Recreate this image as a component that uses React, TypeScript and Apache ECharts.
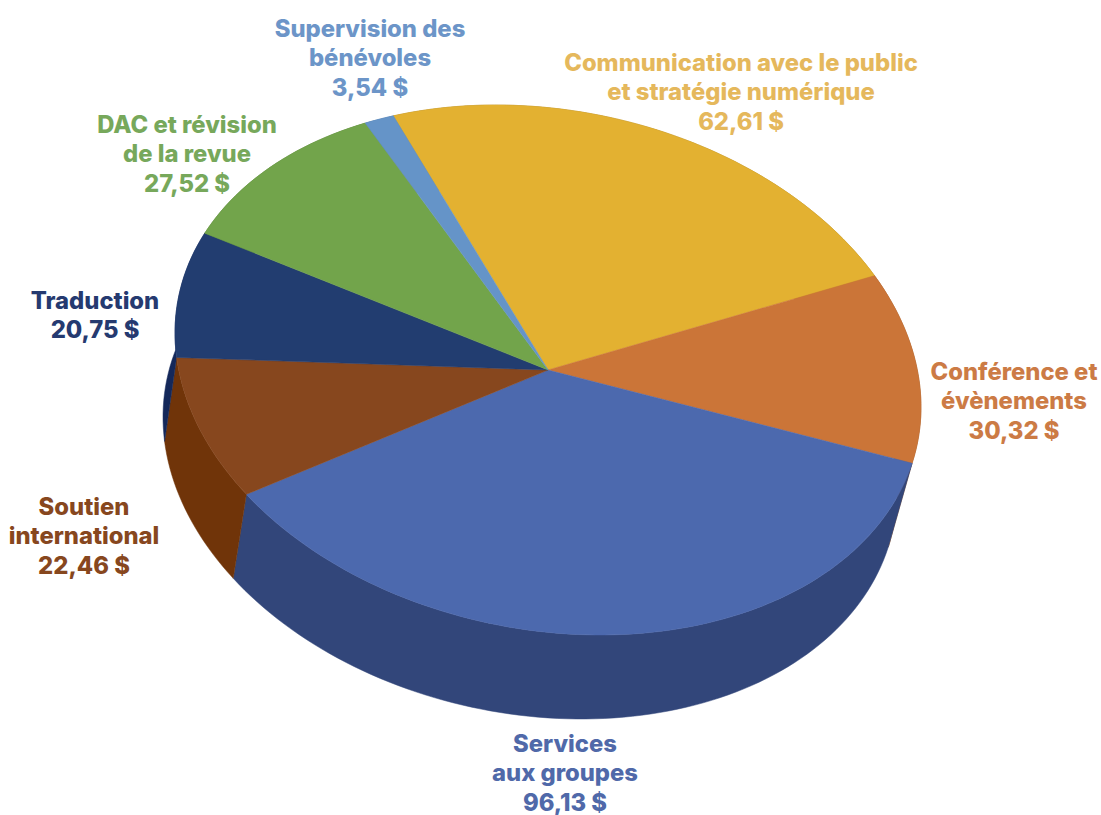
import React, { useEffect, useRef } from "react";
import * as echarts from "echarts";

// Data, clockwise from the start of the largest upper slice
const categories = [
  ["Communication avec le public", "et stratégie numérique"],
  ["Conférence et", "évènements"],
  ["Services", "aux groupes"],
  ["Soutien", "international"],
  ["Traduction"],
  ["DAC et révision", "de la revue"],
  ["Supervision des", "bénévoles"],
];
const values = [62.61, 30.32, 96.13, 22.46, 20.75, 27.52, 3.54];
const valueLabels = ["62,61 $", "30,32 $", "96,13 $", "22,46 $", "20,75 $", "27,52 $", "3,54 $"];

// Styling
const topColors = ["#E3B131", "#CB7538", "#4C69AE", "#87471E", "#223D70", "#72A44B", "#6594C8"];
const wallColors = ["#A67E20", "#97531F", "#32467A", "#703409", "#14285A", "#4F7730", "#446C9C"];
const textColors = ["#E5B85C", "#CC7B45", "#5069A9", "#87471E", "#253A70", "#77A85B", "#6C95C8"];

// Label anchors: centre x and first line centre y
const labelX = [741, 1014, 565, 84, 95, 187, 370];
const labelY = [62, 371, 743, 506, 300, 124, 28];
const lineHeight = 29.5;
const fontSize = 23.8;

// Projected disc geometry: tilted ellipses for the top face and the base
const top = { cx: 548, cy: 370, rx: 373, ry: 265 };
const base = { cx: 530, cy: 454, rx: 367, ry: 265 };
const tilt = 0.14;
const startDeg = -114.5;
const arcStepDeg = 1.5;

const total = values.reduce((a, b) => a + b, 0);

function project(e: typeof top, deg: number): number[] {
  const t = (deg * Math.PI) / 180;
  const c = Math.cos(t);
  const s = Math.sin(t);
  return [e.cx + e.rx * c, e.cy + e.ry * (tilt * c + Math.sqrt(1 - tilt * tilt) * s)];
}

function sliceRange(i: number): [number, number] {
  let before = 0;
  for (let k = 0; k < i; k++) before += values[k];
  const a = startDeg + (before / total) * 360;
  return [a, a + (values[i] / total) * 360];
}

function arc(e: typeof top, a: number, b: number): number[][] {
  const n = Math.max(2, Math.ceil((b - a) / arcStepDeg));
  const pts: number[][] = [];
  for (let k = 0; k <= n; k++) pts.push(project(e, a + ((b - a) * k) / n));
  return pts;
}

const renderWall = (params: any) => {
  const i = params.dataIndex;
  const [a, b] = sliceRange(i);
  const points = [...arc(top, a, b), ...arc(base, a, b).reverse()];
  return {
    type: "polygon",
    shape: { points },
    style: { fill: wallColors[i], stroke: wallColors[i], lineWidth: 0.5 },
  };
};

const renderTop = (params: any) => {
  const i = params.dataIndex;
  const [a, b] = sliceRange(i);
  const points = [[top.cx, top.cy], ...arc(top, a, b)];
  return {
    type: "polygon",
    shape: { points },
    style: { fill: topColors[i], stroke: topColors[i], lineWidth: 0.5 },
  };
};

const labelElements = categories.flatMap((lines, i) =>
  [...lines, valueLabels[i]].map((text, k) => ({
    type: "text",
    x: labelX[i],
    y: labelY[i] + k * lineHeight,
    style: {
      text,
      fill: textColors[i],
      font: `800 ${fontSize}px Inter, "Open Sans", sans-serif`,
      textAlign: "center",
      textVerticalAlign: "middle",
    },
  }))
);

export default function App() {
  const ref = useRef<HTMLDivElement>(null);
  useEffect(() => {
    const chart = echarts.init(ref.current!, undefined, { renderer: "svg" });
    const data = values.map((v) => [v]);
    chart.setOption({
      animation: false,
      backgroundColor: "#ffffff",
      series: [
        { type: "custom", coordinateSystem: "none", silent: true, z: 1, data, renderItem: renderWall },
        { type: "custom", coordinateSystem: "none", silent: true, z: 2, data, renderItem: renderTop },
      ],
      graphic: { elements: labelElements },
    });
    return () => chart.dispose();
  }, []);
  return <div ref={ref} style={{ position: "fixed", left: 0, top: 0, width: 1101, height: 815 }} />;
}
